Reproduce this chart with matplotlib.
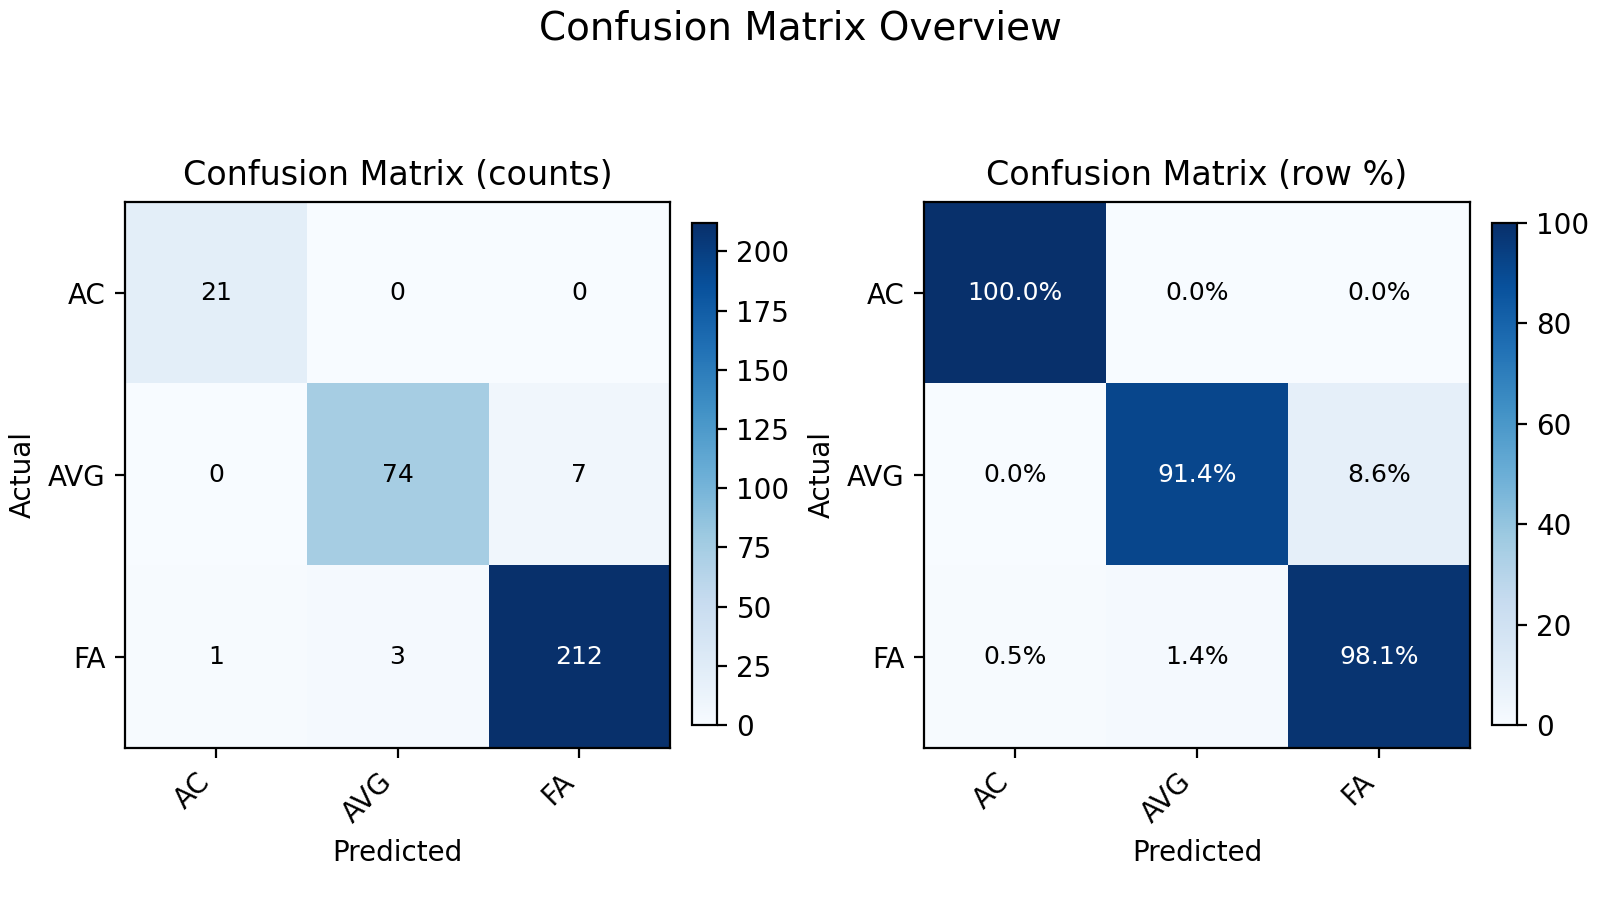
import numpy as np
import matplotlib.pyplot as plt

labels = ["AC", "AVG", "FA"]
counts = np.array([[21, 0, 0],
                   [0, 74, 7],
                   [1, 3, 212]])

# row-normalised percentages
row_pct = counts / counts.sum(axis=1, keepdims=True) * 100


def draw_matrix(ax, cax, mat, title, fmt):
    im = ax.imshow(mat, cmap="Blues", interpolation="nearest", aspect="auto")
    fig.colorbar(im, cax=cax)
    cax.tick_params(labelsize=10)
    ax.set_title(title, fontsize=12)
    ax.set_xticks(range(len(labels)))
    ax.set_yticks(range(len(labels)))
    ax.set_xticklabels(labels, rotation=45, ha="right", fontsize=10)
    ax.set_yticklabels(labels, fontsize=10)
    ax.set_xlabel("Predicted", fontsize=10)
    ax.set_ylabel("Actual", fontsize=10)
    thresh = mat.max() / 2.0
    for i in range(mat.shape[0]):
        for j in range(mat.shape[1]):
            ax.text(j, i, fmt(mat[i, j]), ha="center", va="center",
                    color="white" if mat[i, j] > thresh else "black", fontsize=9)


fig = plt.figure(figsize=(8, 4.5), dpi=200)
ax1 = fig.add_axes([0.0781, 0.1689, 0.3407, 0.6067])
cax1 = fig.add_axes([0.4323, 0.1944, 0.0158, 0.5578])
ax2 = fig.add_axes([0.5775, 0.1689, 0.3413, 0.6067])
cax2 = fig.add_axes([0.9323, 0.1944, 0.0158, 0.5578])

draw_matrix(ax1, cax1, counts, "Confusion Matrix (counts)", lambda v: f"{int(v)}")
draw_matrix(ax2, cax2, row_pct, "Confusion Matrix (row %)", lambda v: f"{v:.1f}%")
fig.suptitle("Confusion Matrix Overview", fontsize=14, y=0.99)
fig.savefig("out.png", dpi=200)
